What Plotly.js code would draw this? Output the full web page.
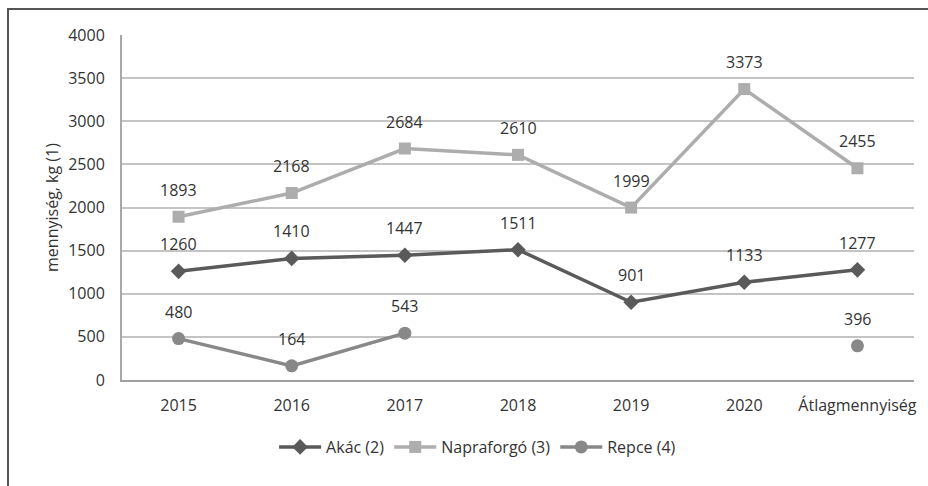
<!DOCTYPE html>
<html>
<head>
<meta charset="utf-8">
<script src="https://cdn.plot.ly/plotly-3.0.1.min.js"></script>
<style>
html,body{margin:0;padding:0;background:#fff;}
#wrap{position:relative;width:928px;height:486px;}
#chart{position:absolute;left:0;top:0;width:928px;height:486px;}
#frame{position:absolute;left:7px;top:8px;width:940px;height:500px;border-top:2px solid #555;border-left:2px solid #555;pointer-events:none;}
</style>
</head>
<body>
<div id="wrap"><div id="chart"></div><div id="frame"></div></div>
<script>
const categories = ["2015","2016","2017","2018","2019","2020","Átlagmennyiség"];
const akac = [1260,1410,1447,1511,901,1133,1277];
const napraforgo = [1893,2168,2684,2610,1999,3373,2455];
const repce = [480,164,543,null,null,null,396];
const names = ["Akác (2)","Napraforgó (3)","Repce (4)"];
const yTicks = [0,500,1000,1500,2000,2500,3000,3500,4000];

const FONT = "Open Sans, sans-serif";
const TXT = "#333333";
const idx = categories.map((c, i) => i);
const series = [
  {y: akac, name: names[0], color: "#5a5a5a", symbol: "diamond", size: 12},
  {y: napraforgo, name: names[1], color: "#adadad", symbol: "square", size: 12},
  {y: repce, name: names[2], color: "#888888", symbol: "circle", size: 13}
];

const traces = series.map(s => ({
  x: idx, y: s.y, name: s.name, type: "scatter", mode: "lines+markers",
  connectgaps: false,
  line: {color: s.color, width: 3.5},
  marker: {color: s.color, symbol: s.symbol, size: s.size}
}));

const annotations = [];
series.forEach(s => {
  s.y.forEach((v, i) => {
    if (v === null) return;
    annotations.push({x: idx[i], y: v, xref: "x", yref: "y", text: String(v),
      showarrow: false, yshift: 27, font: {family: FONT, size: 16, color: TXT}});
  });
});

const layout = {
  width: 928, height: 486,
  margin: {l: 122, r: 14, t: 35, b: 106},
  paper_bgcolor: "rgba(0,0,0,0)", plot_bgcolor: "rgba(0,0,0,0)",
  font: {family: FONT, size: 16, color: TXT},
  showlegend: true,
  legend: {orientation: "h", x: 0.449, xanchor: "center", y: -0.145, yanchor: "top",
    itemwidth: 42, font: {family: FONT, size: 16, color: TXT}, traceorder: "normal"},
  xaxis: {type: "linear", range: [-0.5, categories.length - 0.5], tickvals: idx, ticktext: categories,
    showgrid: false, showline: true,
    linecolor: "#a0a0a0", linewidth: 2, ticks: "", ticklabelstandoff: 10,
    tickfont: {family: FONT, size: 16, color: TXT}, zeroline: false},
  yaxis: {range: [0, 4000], tickvals: yTicks, showgrid: true, gridcolor: "#c4c4c4", gridwidth: 2,
    showline: true, linecolor: "#a8a8a8", linewidth: 2, ticks: "", zeroline: false,
    ticklabelstandoff: 12, tickfont: {family: FONT, size: 16, color: TXT},
    title: {text: "mennyiség, kg (1)", standoff: 6, font: {family: FONT, size: 16, color: TXT}},
    automargin: false},
  annotations: annotations
};

Plotly.newPlot("chart", traces, layout, {displayModeBar: false, staticPlot: true});
</script>
</body>
</html>
